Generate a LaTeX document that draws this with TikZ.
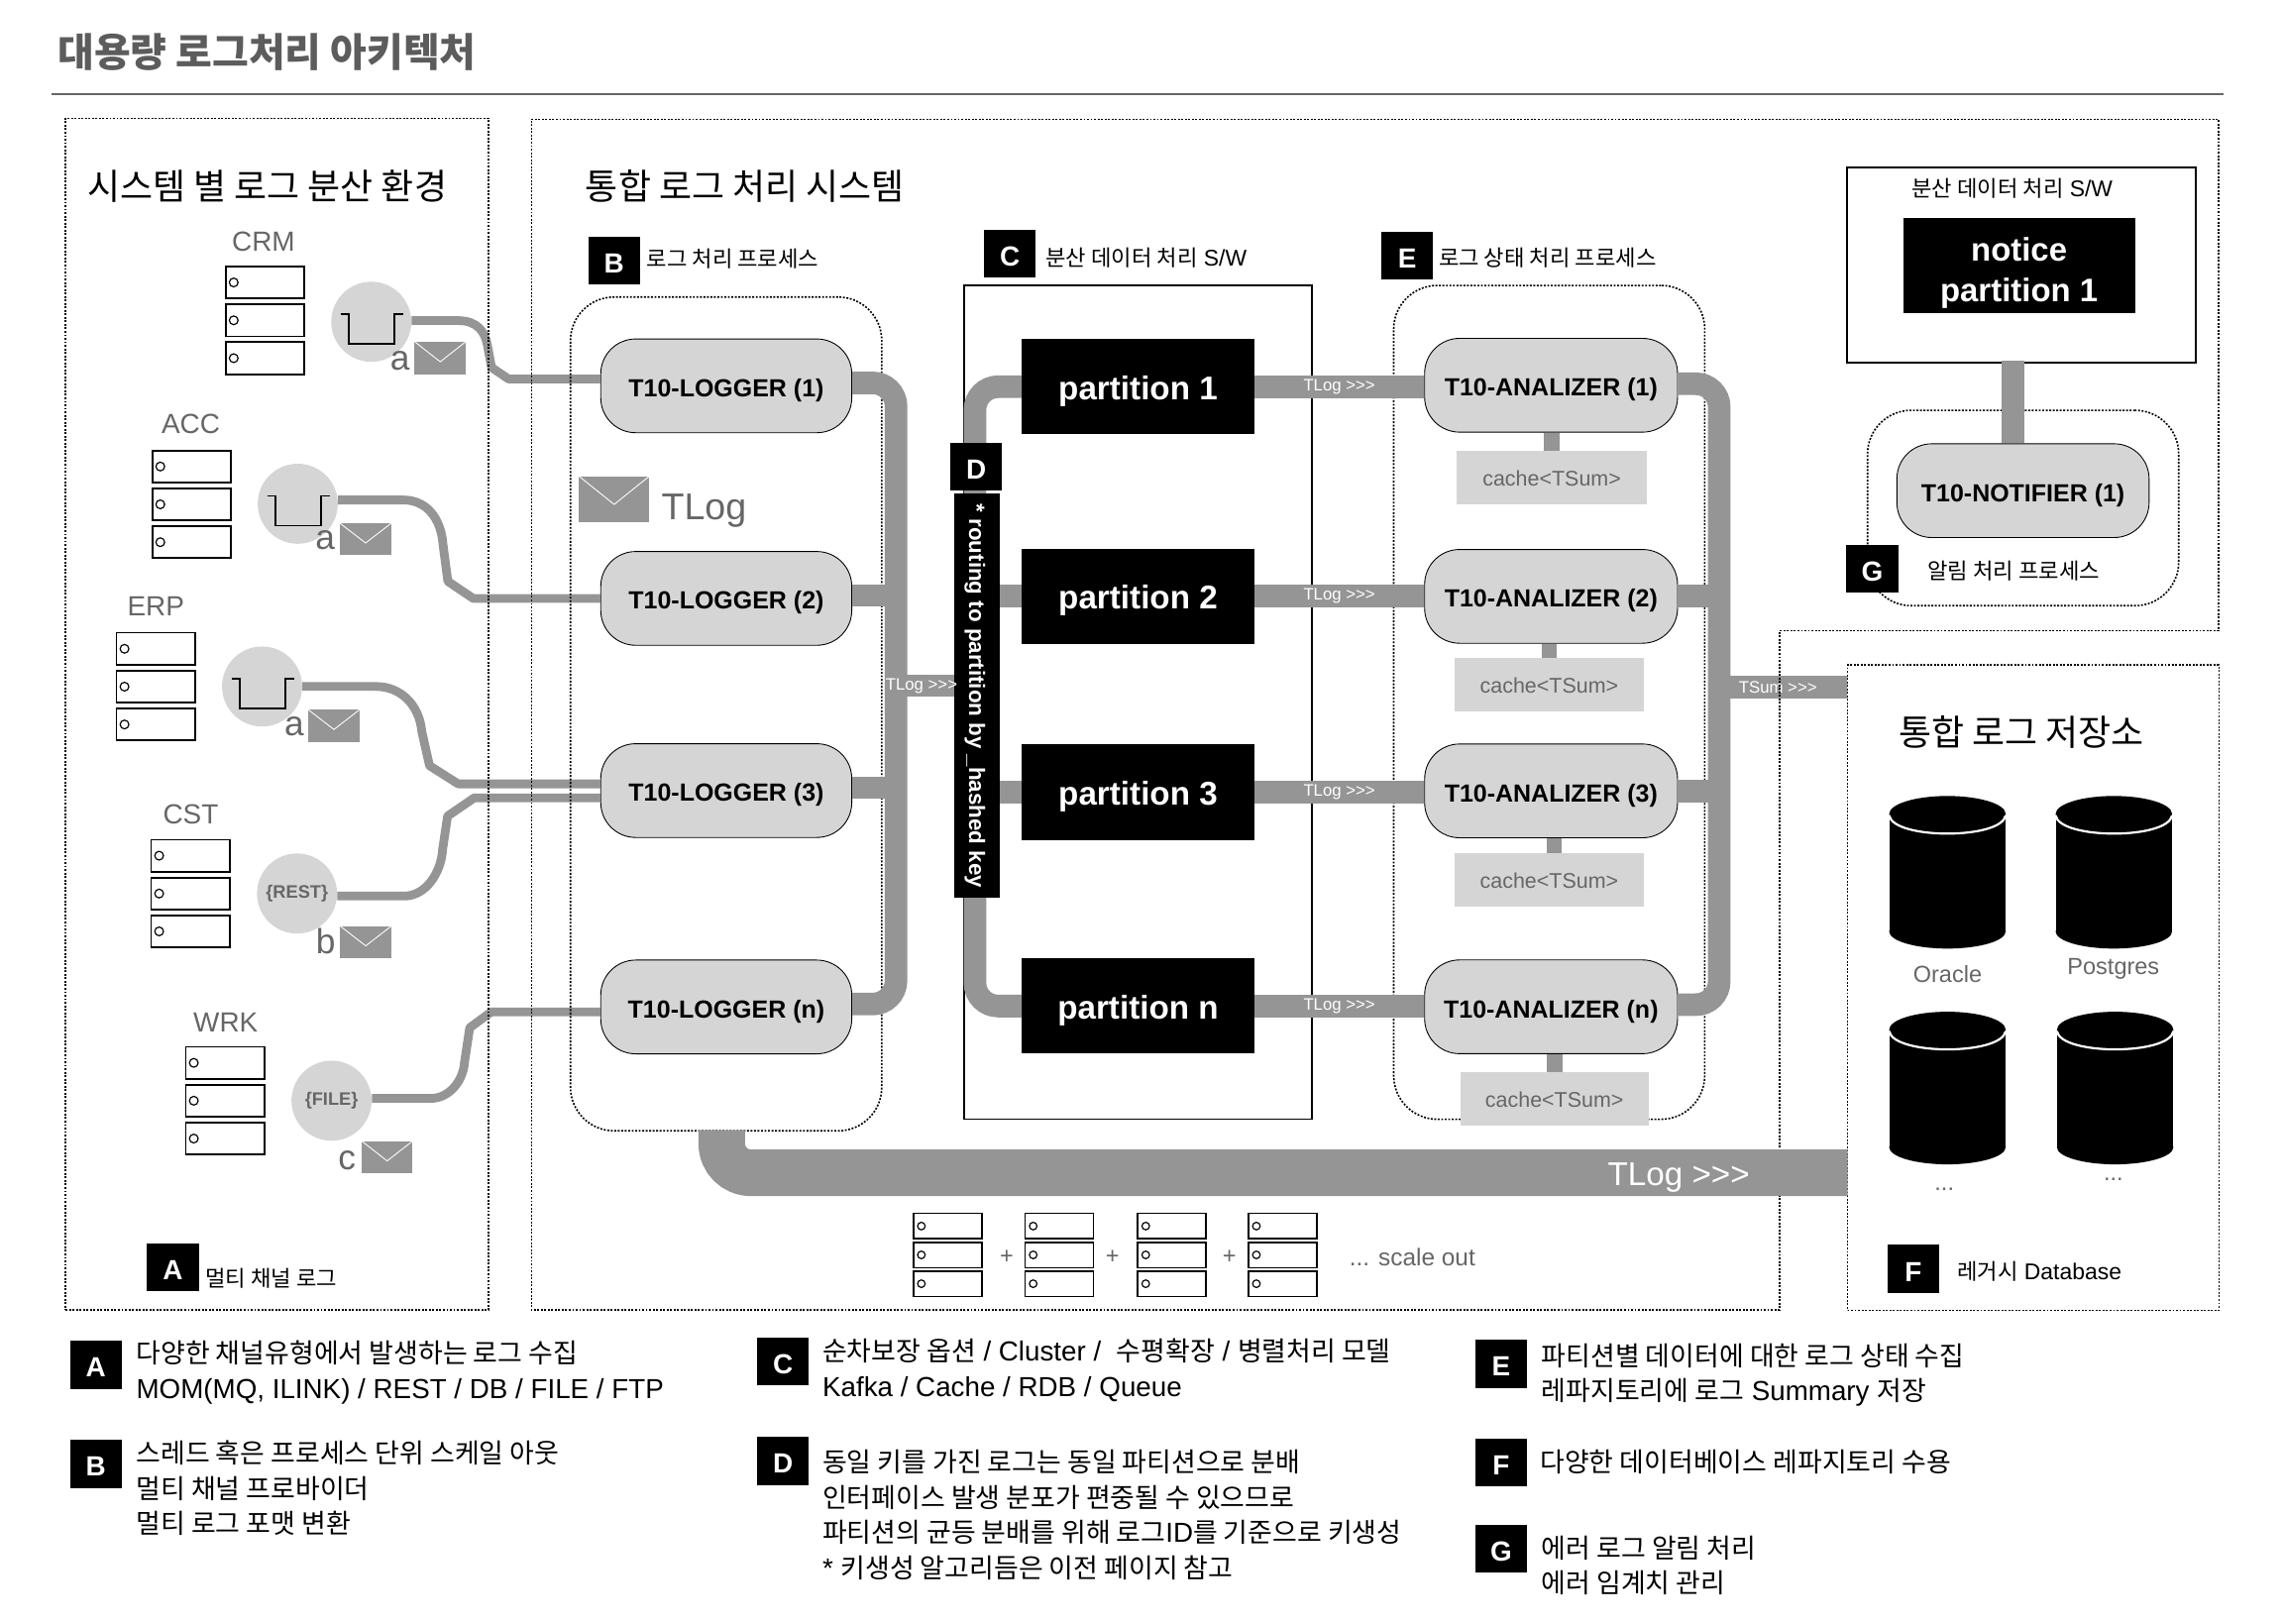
\documentclass[tikz,border=0pt]{standalone}
\usepackage{fontspec}
\setmainfont{Liberation Sans}
\newfontfamily\kr[Scale=0.97]{Noto Sans CJK KR}
\definecolor{pipegray}{HTML}{959595}
\definecolor{boxgray}{HTML}{D5D5D5}
\definecolor{txtgray}{HTML}{666666}
\newcommand{\fs}[1]{\fontsize{#1}{#1}\selectfont}
\newcommand{\flow}{>{}>{}>}
\tikzset{
  dotbox/.style={draw=black,line width=1.1pt,dash pattern=on 1.3pt off 1.1pt},
  grpbox/.style={dotbox,rounded corners=30pt,inner sep=0pt},
  solidbox/.style={draw=black,line width=1.2pt,inner sep=0pt},
  t10/.style={draw=black,line width=.6pt,fill=boxgray,rounded corners=24pt,inner sep=0pt,minimum height=64.4pt,text height=15pt,text depth=0pt,font=\fs{17}\bfseries},
  partbox/.style={fill=black,text=white,inner sep=0pt,minimum width=159.4pt,minimum height=65.4pt,text height=18pt,text depth=0pt,font=\fs{22.6}\bfseries},
  cachebox/.style={fill=boxgray,text=txtgray,inner sep=0pt,minimum height=36.6pt,text height=11pt,text depth=0pt,font=\fs{14.6}},
  gw/.style={circle,fill=boxgray,text=txtgray,inner sep=0pt,minimum size=55pt,font=\fs{12.4}\bfseries},
  badge/.style={fill=black,text=white,inner sep=0pt,minimum width=35.6pt,minimum height=32.8pt,text height=17pt,text depth=0pt,font=\fs{19}\bfseries},
  thinpipe/.style={draw=pipegray,line width=6pt,line join=round},
  bus/.style={draw=pipegray,line width=15.5pt},
  stubpipe/.style={draw=pipegray,line width=10.7pt},
  bigpipe/.style={draw=pipegray,line width=32pt},
  tag/.style={text=white,inner sep=0pt,font=\fs{11.4}},
  gtxt/.style={text=txtgray,inner sep=0pt},
  head/.style={anchor=west,inner sep=0pt,font=\fs{25.2}\kr},
  captxt/.style={anchor=west,inner sep=0pt,font=\fs{15.6}},
  note/.style={anchor=west,inner sep=0pt,align=left,font=\fontsize{18.9}{24.3}\selectfont},
  srv/.style={draw=black,line width=1.2pt,fill=white},
  srvdot/.style={draw=black,line width=.8pt}
}
\begin{document}
\begin{tikzpicture}[x=1pt,y=-1pt]
\useasboundingbox (0,0) rectangle (1568,1114.8);

% title
\node[anchor=west,inner sep=0pt,text=txtgray!90!black,font=\fs{28}\kr\bfseries] (title) at (39.6,36) {대용량 로그처리 아키텍처};
\draw[txtgray,line width=1pt] (35.4,64.8)--(1527,64.8);

% channels: servers, gateways, envelopes
\foreach \n/\tx/\ty/\sx/\sy in {crm/181/166/155/183,acc/131/291/104.6/309.4,erp/107/416.5/80/434.6,cst/131/559/103.8/576.7,wrk/155/702/127.6/719}
{
    \node[gtxt,font=\fs{19}] (lbl\n) at (\tx,\ty) {\MakeUppercase{\n}};
    \foreach \i in {0,1,2}
    {
        \draw[srv] (\sx,\sy+26*\i) rectangle ++(54,22);
        \draw[srvdot] (\sx+5.5,\sy+26*\i+11) circle (3pt);
    }
}
\node[gw] (gwcrm) at (255,221) {};
\node[gw] (gwacc) at (204.5,346) {};
\node[gw] (gwerp) at (180,471.5) {};
\node[gw] (gwcst) at (204,613.7) {\{REST\}};
\node[gw] (gwwrk) at (227.7,756) {\{FILE\}};
\foreach \n in {crm,acc,erp}
{
    \draw[black,line width=1pt] ([xshift=-21pt,yshift=5.4pt]gw\n.center)--++(5.7,0)--++(0,20.6)--++(31.3,0)--++(0,-20.6)--++(6,0);
}
\foreach \ex/\ey/\ew/\eh in {284.7/234.6/35.3/22.4,233.4/359.3/35.4/22,211.7/487.4/35.3/22,233.6/636/35.2/22,248.4/783.7/35/22,397.6/327/48.4/31.4}
{
    \fill[pipegray] (\ex,\ey) rectangle ++(\ew,\eh);
    \draw[white,line width=.6pt] (\ex,\ey)--(\ex+\ew/2,\ey+.62*\eh)--(\ex+\ew,\ey);
}
\node[gtxt,font=\fs{24}] (kinda1) at (274.7,247.7) {a};
\node[gtxt,font=\fs{24}] (kinda2) at (223.4,371) {a};
\node[gtxt,font=\fs{24}] (kinda3) at (202,499.3) {a};
\node[gtxt,font=\fs{24}] (kindb) at (223.6,646.6) {b};
\node[gtxt,font=\fs{24}] (kindc) at (238.4,797) {c};
\node[gtxt,font=\fs{25.6}] (tlogkey) at (483.5,350.5) {TLog};

% loggers, partitions, analizers
\foreach \n/\y in {1/265,2/411,3/543,n/691.6}
{
    \node[t10,minimum width=172.4pt] (log\n) at (498.8,\y) {T10-LOGGER (\n)};
}
\foreach \n/\y in {1/265.6,2/409.5,3/544.1,n/691}
{
    \node[partbox] (par\n) at (781.6,\y) {partition \n};
}
\foreach \n/\y in {1/264.6,2/409.6,3/543.2,n/691.5}
{
    \node[t10,minimum width=173.7pt] (ana\n) at (1065.3,\y) {T10-ANALIZER (\n)};
}

% thin pipes and the TSum band sit under the dotted lines
\draw[thinpipe] ([yshift=.8pt]gwcrm.east)--(314.7,220.2) .. controls (328,220.2) and (333,228) .. (334.7,236.8)--(337.6,252.4)--(349.3,260.3)--([yshift=4.7pt]log1.west);
\draw[thinpipe] ([yshift=2.6pt]gwacc.east)--(277,343.4) .. controls (293,343.4) and (303,356) .. (304.3,374.3)--(307.6,399.3)--(325,411)--(log2.west);
\draw[thinpipe] (gwerp.east)--(258.4,471.5) .. controls (275,471.5) and (288,484) .. (289.7,502.4)--(295,525.9)--(314.7,538.4)--([yshift=4.6pt]log3.west);
\draw[thinpipe] ([yshift=-1.7pt]gwcst.east)--(277.9,615.4) .. controls (292,615.4) and (303,600) .. (304,583.3)--(307.4,560.5)--(325.7,548)--([yshift=-5pt]log3.west);
\draw[thinpipe] ([yshift=1.6pt]gwwrk.east)--(296.1,754.4) .. controls (308,754.4) and (318,743) .. (319,729.8)--(322.6,705.9)--(337.4,695)--([yshift=-3.4pt]logn.west);

\coordinate (busr) at (1180.8,472);
\node[inner sep=0pt,minimum width=255.1pt,minimum height=443.3pt,dotbox] (store) at (1396.45,678.35) {};
\draw[bus] (busr)--(busr -| store.west) node[tag,pos=.46] (tagsum) {TSum \flow};

% dotted frames
\node[dotbox,inner sep=0pt,minimum width=290.5pt,minimum height=818.5pt] (chanbox) at (190.25,490.45) {};
\draw[dotbox] (365,82)--(1523.6,82)--(1523.6,433.2)--(1222.3,433.2)--(1222.3,899.7)--(365,899.7)--cycle;
\node[grpbox,minimum width=213.8pt,minimum height=572.7pt] (logbox) at (498.7,490.35) {};
\node[grpbox,minimum width=213.6pt,minimum height=572.7pt] (anabox) at (1064,482.4) {};
\node[grpbox,minimum width=213.7pt,minimum height=134.2pt] (notibox) at (1389.5,348.9) {};
\node[solidbox,minimum width=238.8pt,minimum height=572.7pt] (swbox) at (781.4,482.35) {};

% notifier side
\node[solidbox,minimum width=239.3pt,minimum height=134.2pt] (noticebox) at (1388.35,181.9) {};
\node[fill=black,inner sep=0pt,minimum width=159.4pt,minimum height=65.1pt] (noticefill) at (1386.7,182.25) {};
\node[text=white,inner sep=0pt,align=center,font=\fontsize{22.4}{28}\selectfont\bfseries] (noticetxt) at (1386.7,187.5) {notice\\partition 1};
\node[inner sep=0pt,font=\fs{15.6}] (noticecap) at (1382,129.4) {{\kr 분산 데이터 처리} S/W};
\node[t10,minimum width=173.2pt] (notifier) at (1389.4,337) {T10-NOTIFIER (1)};
\draw[bus] ([xshift=-6pt,yshift=2pt]noticebox.south)--([xshift=-6pt]noticebox.south |- notifier.north);

% thick pipes
\coordinate (busl) at (615.4,471);
\coordinate (busm) at (669.6,471);
\draw[bus,rounded corners=16pt] ([yshift=2pt]log1.east) -| (busl) |- ([yshift=2pt]logn.east);
\foreach \n in {2,3}
{
    \draw[bus] ([yshift=2pt]log\n.east)--([yshift=2pt]log\n.east -| busl);
}
\draw[bus,rounded corners=16pt] (par1.west) -| (busm) |- (parn.west);
\node[fill=black,inner sep=0pt,minimum width=31.3pt,minimum height=277.6pt] (dbar) at (671,478) {};
\node[rotate=-90,text=white,inner sep=0pt,font=\fs{15.2}\bfseries] (dtxt) at ([xshift=-1.5pt]dbar.center) {* routing to partition by \_hashed key};
\draw[bus] (busl)--(busl -| dbar.west) node[tag,pos=.44] (tagbus) {TLog \flow};
\foreach \n in {2,3}
{
    \draw[bus] (par\n.west)--(par\n.west -| dbar.east);
}
\foreach \n in {1,2,3,n}
{
    \draw[bus] (par\n.east)--(par\n.east -| ana\n.west) node[tag,midway] (tagpar\n) {TLog \flow};
}
\draw[bus,rounded corners=16pt] ([yshift=1pt]ana1.east) -| (busr) |- ([yshift=1.5pt]anan.east);
\foreach \n in {2,3}
{
    \draw[bus] (ana\n.east)--(ana\n.east -| busr);
}
\foreach \n/\cx/\cy/\cw/\sh in {1/1065.8/328.2/130.4/0,2/1064/470.4/129.4/0,3/1064/604.5/129.4/3.4,n/1067.6/754.8/129/0}
{
    \node[cachebox,minimum width=\cw pt] (cache\n) at (\cx,\cy) {cache<TSum>};
    \draw[stubpipe] ([xshift=\sh pt]cache\n.north)--([xshift=\sh pt]cache\n.north |- ana\n.south);
}
\coordinate (logend) at (1268.9,805.5);
\draw[bigpipe,rounded corners=20pt] ([xshift=-3pt,yshift=1pt]logbox.south) |- (logend);
\node[text=white,inner sep=0pt,font=\fs{22.6}] (tagbig) at (1153,809) {TLog \flow};

% headings and badges
\node[head] (headA) at (60,128) {시스템 별 로그 분산 환경};
\node[head] (headB) at (402,128) {통합 로그 처리 시스템};
\node[head] (headC) at (1304,503) {통합 로그 저장소};

\node[badge] (bdgA) at (118.7,870.4) {A};
\node[captxt] (capA) at (141,878) {\kr 멀티 채널 로그};
\node[badge] (bdgB) at (421.8,179) {B};
\node[captxt] (capB) at (444,178) {\kr 로그 처리 프로세스};
\node[badge] (bdgC) at (693.7,174.4) {C};
\node[captxt] (capC) at (718,177) {{\kr 분산 데이터 처리} S/W};
\node[badge] (bdgD) at (670.4,320.5) {D};
\node[badge] (bdgE) at (966.5,175.7) {E};
\node[captxt] (capE) at (988,177) {\kr 로그 상태 처리 프로세스};
\node[badge] (bdgF) at (1314,871.5) {F};
\node[captxt] (capF) at (1344,873) {{\kr 레거시} Database};
\node[badge] (bdgG) at (1285.9,390.7) {G};
\node[captxt] (capG) at (1323.8,392.2) {\kr 알림 처리 프로세스};

% scale out
\foreach \sx in {627.3,704.1,781.4,857.4}
{
    \foreach \i in {0,1,2}
    {
        \draw[srv] (\sx,833.4+19.8*\i) rectangle ++(46.9,17.5);
        \draw[srvdot] (\sx+5.5,833.4+19.8*\i+8.7) circle (2.6pt);
    }
}
\node[gtxt,font=\fs{16}] (plus1) at (691.5,863.3) {+};
\node[gtxt,font=\fs{16}] (plus2) at (764,863.3) {+};
\node[gtxt,font=\fs{16}] (plus3) at (844.4,863.3) {+};
\node[gtxt,font=\fs{16.6}] (scaleout) at (970,863.5) {... scale out};

% databases
\foreach \dbx/\dby in {1297.5/546.7,1411.8/546.7,1297.5/694.9,1412.7/694.9}
{
    \fill[black] (\dbx+40,\dby+93) ellipse [x radius=40pt,y radius=11.8pt];
    \fill[black] (\dbx,\dby+12.4) rectangle ++(80,80.6);
    \fill[black] (\dbx+40,\dby+12.4) ellipse [x radius=40pt,y radius=12.4pt];
    \draw[white,line width=1.5pt] (\dbx,\dby+13.4) .. controls (\dbx+3,\dby+30) and (\dbx+77,\dby+30) .. (\dbx+80,\dby+13.4);
}
\node[gtxt,font=\fs{16}] (dbora) at (1337.6,669.3) {Oracle};
\node[gtxt,font=\fs{16}] (dbpg) at (1451.5,665.5) {Postgres};
\node[gtxt,font=\fs{16}] (dbmore1) at (1335.4,817) {...};
\node[gtxt,font=\fs{16}] (dbmore2) at (1451.5,810) {...};

% legend
\node[badge] (keyA) at (65.8,937.4) {A};
\node[note] (noteA) at (93.4,942.5) {{\kr 다양한 채널유형에서 발생하는 로그 수집}\\MOM(MQ, ILINK) / REST / DB / FILE / FTP};
\node[badge] (keyB) at (65.8,1005.5) {B};
\node[note,font=\fontsize{18.9}{24}\selectfont\kr] (noteB) at (93.4,1022) {스레드 혹은 프로세스 단위 스케일 아웃\\멀티 채널 프로바이더\\멀티 로그 포맷 변환};
\node[badge] (keyC) at (537.7,935) {C};
\node[note] (noteC) at (564.7,941) {{\kr 순차보장 옵션} / Cluster /\ \ {\kr 수평확장} / {\kr 병렬처리 모델}\\Kafka / Cache / RDB / Queue};
\node[badge] (keyD) at (537.7,1003.4) {D};
\node[note] (noteD) at (564.7,1040.5) {{\kr 동일 키를 가진 로그는 동일 파티션으로 분배}\\{\kr 인터페이스 발생 분포가 편중될 수 있으므로}\\{\kr 파티션의 균등 분배를 위해 로그}ID{\kr 를 기준으로 키생성}\\* {\kr 키생성 알고리듬은 이전 페이지 참고}};
\node[badge] (keyE) at (1031,936.7) {E};
\node[note] (noteE) at (1058.6,944.5) {{\kr 파티션별 데이터에 대한 로그 상태 수집}\\{\kr 레파지토리에 로그} Summary {\kr 저장}};
\node[badge] (keyF) at (1031,1004.7) {F};
\node[note,font=\fontsize{18.9}{24}\selectfont\kr] (noteF) at (1057.6,1004) {다양한 데이터베이스 레파지토리 수용};
\node[badge] (keyG) at (1031,1063.6) {G};
\node[note,font=\fontsize{18.9}{24}\selectfont\kr] (noteG) at (1058.6,1075) {에러 로그 알림 처리\\에러 임계치 관리};
\end{tikzpicture}
\end{document}
